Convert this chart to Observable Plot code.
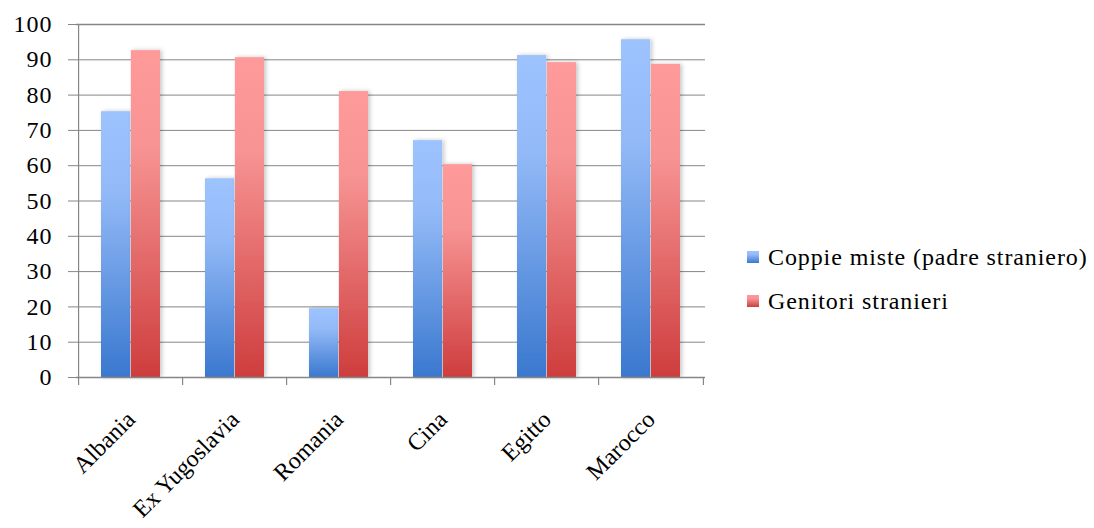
<!DOCTYPE html>
<html><head><meta charset="utf-8">
<script src="https://cdn.jsdelivr.net/npm/d3@7"></script>
<script src="https://cdn.jsdelivr.net/npm/@observablehq/plot@0.6"></script>
<style>
body{margin:0;background:#fff;}
#chart{position:relative;width:1094px;height:528px;}
#chart svg text{font-family:'Liberation Serif','Times New Roman',serif;}
</style></head><body><div id="chart"></div>
<script>
const countries = ["Albania", "Ex Yugoslavia", "Romania", "Cina", "Egitto", "Marocco"];
const seriesNames = ["Coppie miste (padre straniero)", "Genitori stranieri"];
const coppieMiste = [75.3, 56.3, 19.5, 67.1, 91.2, 95.7];
const genitoriStranieri = [92.6, 90.6, 81.0, 60.3, 89.2, 88.7];
const yTicks = [0, 10, 20, 30, 40, 50, 60, 70, 80, 90, 100];

const blueData = countries.map((c, i) => ({country: c, value: coppieMiste[i]}));
const redData = countries.map((c, i) => ({country: c, value: genitoriStranieri[i]}));

const W = 1094, H = 528, mL = 76, mR = 389, mT = 24, mB = 151;
const step = (W - mL - mR) / countries.length;
const bandPad = 0.43;
const halfBand = step * (1 - bandPad) / 2;
const font = "'Liberation Serif', 'Times New Roman', serif";
const gridColor = "#868686";

const plot = Plot.plot({
  width: W, height: H,
  marginLeft: mL, marginRight: mR, marginTop: mT, marginBottom: mB,
  style: {fontFamily: font, fontSize: "24px", color: "#000", background: "#fff"},
  x: {domain: countries, paddingInner: bandPad, paddingOuter: bandPad / 2, axis: null},
  y: {domain: [0, 100], axis: null},
  marks: [
    Plot.ruleY(yTicks.filter(t => t > 0 && t < 100), {stroke: gridColor, strokeWidth: 1}),
    Plot.ruleY([100], {stroke: gridColor, strokeWidth: 1.6}),
    Plot.axisY({ticks: yTicks, tickSize: 8, tickPadding: 16, stroke: gridColor, fill: "#000", label: null, fontSize: 24, fontFamily: font}),
    Plot.barY(blueData, {x: "country", y: "value", insetRight: halfBand, fill: "url(#gBlue)"}),
    Plot.barY(redData, {x: "country", y: "value", insetLeft: halfBand, fill: "url(#gRed)"}),
    Plot.ruleY([0], {stroke: gridColor, strokeWidth: 1.6}),
    Plot.ruleX([countries[0]], {x: d => d, dx: -step / 2, y1: 100, y2: 0, insetBottom: -8, stroke: gridColor, strokeWidth: 1.2}),
    Plot.ruleX(countries.slice(1), {x: d => d, dx: -step / 2, y1: 0, y2: 0, insetBottom: -8, stroke: gridColor, strokeWidth: 1.2}),
    Plot.ruleX([countries[countries.length - 1]], {x: d => d, dx: step / 2, y1: 0, y2: 0, insetBottom: -8, stroke: gridColor, strokeWidth: 1.2}),
    Plot.text(countries, {x: d => d, y: 0, dy: 38, dx: 0, rotate: -45, textAnchor: "end", fontSize: 24, fontFamily: font, fill: "#000"})
  ]
});

const svg = d3.select(plot);
const defs = svg.insert("defs", ":first-child");
function grad(id, stops) {
  const g = defs.append("linearGradient").attr("id", id).attr("x1", 0).attr("y1", 0).attr("x2", 0).attr("y2", 1);
  stops.forEach(([o, c]) => g.append("stop").attr("offset", o).attr("stop-color", c));
}
grad("gBlue", [[0, "#9DC3FF"], [0.3, "#93BAF7"], [1, "#3A78CF"]]);
grad("gRed", [[0, "#FF9A9A"], [0.3, "#F79393"], [1, "#CE3D3D"]]);
const f = defs.append("filter").attr("id", "shadow").attr("x", "-20%").attr("y", "-5%").attr("width", "140%").attr("height", "110%");
f.append("feDropShadow").attr("dx", 2).attr("dy", 0).attr("stdDeviation", 2).attr("flood-color", "#000").attr("flood-opacity", 0.22);
svg.selectAll("g[aria-label='bar']").attr("filter", "url(#shadow)");
svg.selectAll("g[aria-label='y-axis tick label'] text").style("letter-spacing", "1px");

// legend (right side)
const legend = svg.append("g").attr("font-family", font).attr("font-size", 24).attr("text-anchor", "start");
const fills = ["url(#gBlue)", "url(#gRed)"];
seriesNames.forEach((name, i) => {
  const cy = 257 + i * 44;
  legend.append("rect").attr("x", 747).attr("y", cy - 6).attr("width", 12).attr("height", 12).attr("fill", fills[i]);
  legend.append("text").attr("x", 768).attr("y", cy).attr("dy", "0.35em").attr("fill", "#000")
    .style("letter-spacing", "0.9px").text(name);
});

document.getElementById("chart").appendChild(plot);
</script>
</body></html>
